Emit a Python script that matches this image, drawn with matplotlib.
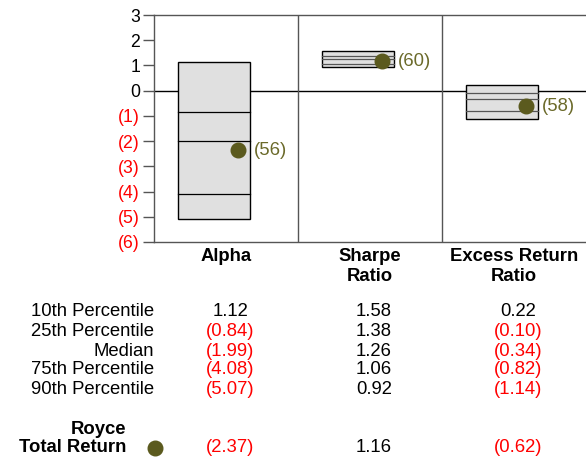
import matplotlib
matplotlib.use("Agg")
import matplotlib.pyplot as plt
from matplotlib.patches import Rectangle

plt.rcParams['font.family'] = ['Liberation Sans', 'DejaVu Sans']

categories = ["Alpha", "Sharpe\nRatio", "Excess Return\nRatio"]
p10 = [1.12, 1.58, 0.22]
p25 = [-0.84, 1.38, -0.10]
median = [-1.99, 1.26, -0.34]
p75 = [-4.08, 1.06, -0.82]
p90 = [-5.07, 0.92, -1.14]
royce = [-2.37, 1.16, -0.62]
ranks = ["(56)", "(60)", "(58)"]
yticks = [3, 2, 1, 0, -1, -2, -3, -4, -5, -6]
row_labels = ["10th Percentile", "25th Percentile", "Median", "75th Percentile", "90th Percentile"]

RED = "#ff0000"
OLIVE = "#5b5a1e"
OLIVE_TXT = "#6b6a2a"
FS = 12.7
FT = 13.3

W, H = 586, 457
fig = plt.figure(figsize=(W / 100, H / 100), dpi=100)
ax_l, ax_r, ax_t, ax_b = 154, 586, 15, 242
ax = fig.add_axes([ax_l / W, 1 - ax_b / H, (ax_r - ax_l) / W, (ax_b - ax_t) / H])
ax.set_xlim(0, 3)
ax.set_ylim(-6, 3)

for s in ['top', 'left', 'bottom']:
    ax.spines[s].set_color('#555555')
    ax.spines[s].set_linewidth(1)
ax.spines['right'].set_visible(False)

ax.axhline(0, color='black', lw=1, zorder=1)
for i in (1, 2):
    ax.axvline(i, color='#555555', lw=1, zorder=1)

bx0, bx1 = 0.165, 0.67
for i in range(3):
    top, bot = p10[i], p90[i]
    ax.add_patch(Rectangle((i + bx0, bot), bx1 - bx0, top - bot,
                           facecolor='#e0e0e0', edgecolor='black', lw=1, zorder=2))
    inner = 'black' if i == 0 else '#555555'
    for v in (p25[i], median[i], p75[i]):
        ax.plot([i + bx0, i + bx1], [v, v], color=inner, lw=0.9, zorder=3)
    ax.plot(i + 0.58, royce[i], 'o', color=OLIVE, markersize=10.5, zorder=4)
    ax.annotate(ranks[i], (i + 0.58, royce[i]), xytext=(12, 0), textcoords='offset points',
                ha='left', va='center', fontsize=FT, color=OLIVE_TXT, zorder=5)

ax.set_xticks([])
ax.set_yticks(yticks)
ax.set_yticklabels([str(v) if v >= 0 else f"({-v})" for v in yticks], fontsize=FS)
for lab, v in zip(ax.get_yticklabels(), yticks):
    lab.set_color('black' if v >= 0 else RED)
ax.tick_params(axis='y', length=8, width=1, color='#555555', pad=2)

def fx(px):
    return px / W

def fy(py):
    return 1 - py / H

centers = [ax_l + (i + 0.5) * (ax_r - ax_l) / 3 for i in range(3)]
for i, c in enumerate(categories):
    fig.text(fx(centers[i]), fy(248), c, ha='center', va='top', fontsize=FT,
             fontweight='bold', linespacing=1.2)

def fmt(v):
    return f"{v:.2f}" if v >= 0 else f"({-v:.2f})"

rows_y = [312, 331, 351, 370, 389]
rows = [p10, p25, median, p75, p90]
for ry, lab, vals in zip(rows_y, row_labels, rows):
    fig.text(fx(154), fy(ry), lab, ha='right', va='center', fontsize=FT)
    for i, v in enumerate(vals):
        fig.text(fx(centers[i] + 4), fy(ry), fmt(v), ha='center', va='center', fontsize=FT,
                 color='black' if v >= 0 else RED)

fig.text(fx(126), fy(429), "Royce", ha='right', va='center', fontsize=FT, fontweight='bold')
fig.text(fx(126), fy(448), "Total Return", ha='right', va='center', fontsize=FT, fontweight='bold')
fig.lines.append(plt.Line2D([fx(155)], [fy(448)], marker='o', color=OLIVE, markersize=10.5,
                            transform=fig.transFigure, figure=fig))
for i, v in enumerate(royce):
    fig.text(fx(centers[i] + 4), fy(448), fmt(v), ha='center', va='center', fontsize=FT,
             color='black' if v >= 0 else RED)

fig.savefig("out.png", dpi=100)
